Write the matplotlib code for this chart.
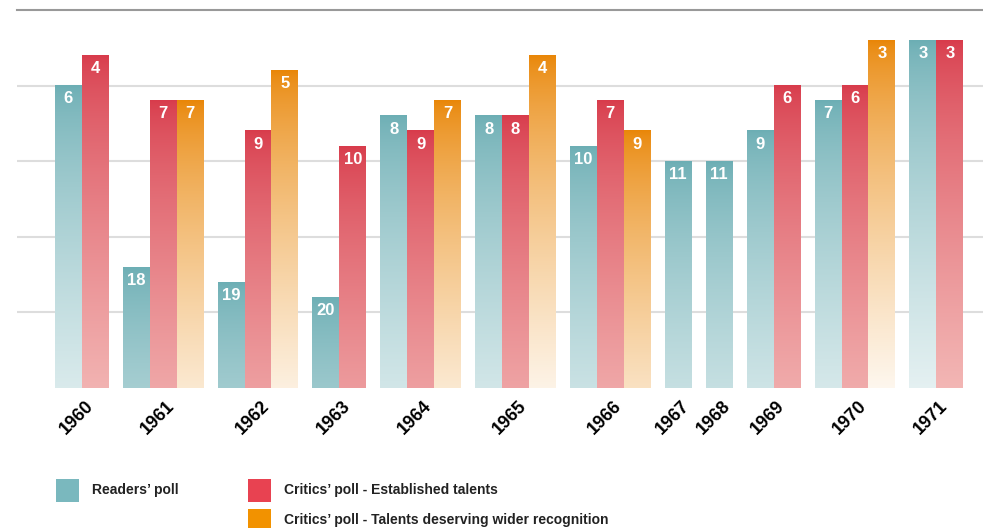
import numpy as np
import matplotlib.pyplot as plt
from matplotlib.colors import to_rgb
from matplotlib.patches import Rectangle

years = ['1960', '1961', '1962', '1963', '1964', '1965', '1966', '1967', '1968', '1969', '1970', '1971']
readers = [6, 18, 19, 20, 8, 8, 10, 11, 11, 9, 7, 3]
critics = [4, 7, 9, 10, 9, 8, 7, None, None, 6, 6, 3]
talents = [None, 7, 5, None, 7, 4, 9, None, None, None, 3, None]

series = [readers, critics, talents]
names = ["Readers\u2019 poll", "Critics\u2019 poll - Established talents",
         "Critics\u2019 poll - Talents deserving wider recognition"]
top_colors = ['#6caeb4', '#d83b4b', '#e98607']
fade_to = ['#ffffff', '#fff0e6', '#ffffff']
legend_colors = ['#7ab8be', '#e84251', '#f29200']
fade = [0.82, 0.68, 0.93]

W, H = 983, 528
fig = plt.figure(figsize=(W / 100, H / 100), dpi=100)
ax = fig.add_axes([17 / W, 1 - 388 / H, 1 - 17 / W, 378 / H])

bottom_rank = 26
gap = 0.524
x = 0.0
centers = []
for i, yr in enumerate(years):
    start = x
    for s, vals in enumerate(series):
        r = vals[i]
        if r is None:
            continue
        h = bottom_rank - r
        # vertical gradient, solid at top, fading toward the light colour at the bottom
        d = np.linspace(h, 0, 200)          # distance from top, bottom row first
        f = fade[s] * (d / 23.0) ** 0.7
        c = np.array(to_rgb(top_colors[s]))
        lo = np.array(to_rgb(fade_to[s]))
        img = c[None, :] * (1 - f[:, None]) + lo[None, :] * f[:, None]
        img = img[:, None, :]
        ax.imshow(img, extent=[x, x + 1, 0, h], origin='lower', aspect='auto',
                  interpolation='bilinear', zorder=2)
        ax.text(x + 0.5, h - 0.38, str(r), ha='center', va='top', color='white',
                fontsize=12, fontweight='bold', family='Liberation Sans', zorder=3)
        x += 1
    centers.append((start + x) / 2)
    x += gap

left = -(55 - 17) / 26.9
ax.set_xlim(left, left + (W - 17) / 26.9)
ax.set_ylim(0, 25)

for yv in [5, 10, 15, 20]:
    ax.axhline(yv, color='#dddddd', lw=1.5, zorder=1)
ax.axhline(25, color='#999999', lw=1.5, zorder=1, clip_on=False)

for sp in ax.spines.values():
    sp.set_visible(False)
ax.set_yticks([])
ax.set_xticks(np.array(centers) + 0.1)
ax.set_xticklabels(years, rotation=45, ha='right', rotation_mode='anchor',
                   fontsize=13, fontweight='bold', family='Liberation Sans')
ax.tick_params(axis='x', length=0, pad=7)

# legend
leg_pos = [(56, 479), (248, 479), (248, 509)]
for (lx, ly), col, name in zip(leg_pos, legend_colors, names):
    fig.add_artist(Rectangle((lx / W, 1 - (ly + 23) / H), 23 / W, 23 / H,
                             transform=fig.transFigure, color=col, lw=0))
    fig.text((lx + 36) / W, 1 - (ly + 11) / H, name, ha='left', va='center',
             fontsize=10, fontweight='bold', color='#222222', family='Liberation Sans')

fig.savefig('out.png', dpi=100)
